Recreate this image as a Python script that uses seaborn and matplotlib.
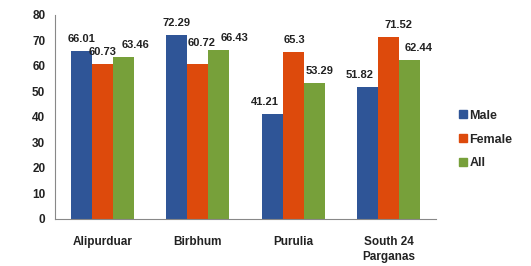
import pandas as pd
import matplotlib.pyplot as plt
import seaborn as sns

# Values
districts = ['Alipurduar', 'Birbhum', 'Purulia', 'South 24\nParganas']
male = [66.01, 72.29, 41.21, 51.82]
female = [60.73, 60.72, 65.3, 71.52]
all_ = [63.46, 66.43, 53.29, 62.44]
groups = ['Male', 'Female', 'All']
colors = ['#2f5597', '#dd4a0c', '#77a03a']

# label nudges (px) per group, per district - Excel moved some labels apart
nudge_x = [[0, 0, -7, -8], [0, 3.5, 1, 10], [12, 16, 5, 9]]
nudge_y = [[0, 0, 0, 0], [0, 9, 0, 0], [0, 0, 0, 0]]

df = pd.DataFrame({
    'District': districts * 3,
    'Group': ['Male'] * 4 + ['Female'] * 4 + ['All'] * 4,
    'Value': male + female + all_,
})

sns.set_style('white')
plt.rcParams['font.family'] = ['Liberation Sans', 'DejaVu Sans']

fig = plt.figure(figsize=(5.31, 2.66), dpi=100)
ax = fig.add_axes([0.1036, 0.1767, 0.7175, 0.767])

sns.barplot(ax=ax, data=df, x='District', y='Value', hue='Group',
            hue_order=groups, palette=colors, width=0.66, gap=0,
            saturation=1, linewidth=0, legend=False)

# Value labels above bars
px = 72 / fig.dpi
for g, cont in enumerate(ax.containers):
    for i, bar in enumerate(cont):
        v = cont.datavalues[i]
        ax.annotate(f'{v:g}', (bar.get_x() + bar.get_width() / 2, bar.get_height()),
                    xytext=(nudge_x[g][i] * px, (7 + nudge_y[g][i]) * px),
                    textcoords='offset points', ha='center', va='bottom',
                    fontsize=8, fontweight='bold', color='#222222')

ax.set_ylim(0, 80)
ax.set_yticks(range(0, 81, 10))
ax.set_xlim(-0.5, 3.5)
ax.set_xlabel('')
ax.set_ylabel('')

# category boundary ticks
ax.set_xticks([-0.5, 0.5, 1.5, 2.5, 3.5], minor=True)
ax.tick_params(axis='x', which='major', length=0, pad=12, labelsize=8.5)
ax.tick_params(axis='x', which='minor', length=4, color='#888888', width=0.8, direction='out')
ax.tick_params(axis='y', length=4, color='#888888', width=0.8, direction='out', labelsize=8.5, pad=3)
for lab in ax.get_xticklabels() + ax.get_yticklabels():
    lab.set_fontweight('bold')
    lab.set_color('#222222')
    lab.set_linespacing(1.35)

sns.despine(ax=ax)
for s in ['left', 'bottom']:
    ax.spines[s].set_color('#888888')
    ax.spines[s].set_linewidth(0.8)

handles = [plt.Rectangle((0, 0), 1, 1, color=c) for c in colors]
fig.legend(handles, groups, loc='upper left', bbox_to_anchor=(0.843, 0.63),
           frameon=False, handlelength=0.65, handleheight=0.65, handletextpad=0.2,
           labelspacing=0.95, prop={'weight': 'bold', 'size': 9})

fig.savefig('out.png', dpi=100)
